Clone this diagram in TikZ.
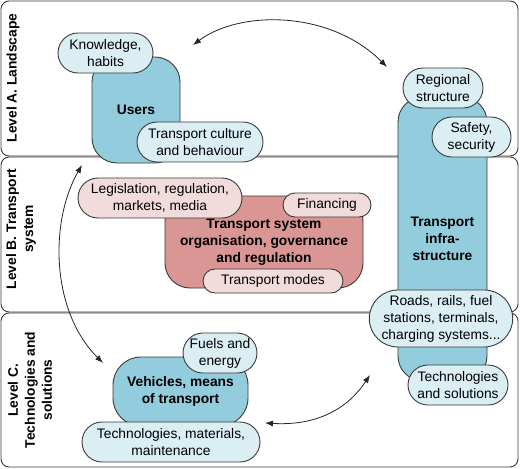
\documentclass[tikz,border=0pt]{standalone}
\usepackage{fontspec}
\setmainfont{Liberation Sans}
\usetikzlibrary{shapes.misc,arrows.meta}
\definecolor{teal1}{HTML}{93CDDD}
\definecolor{light1}{HTML}{DAEEF3}
\definecolor{red1}{HTML}{D99694}
\definecolor{pink1}{HTML}{F2DCDB}
\definecolor{edge}{HTML}{3A3A3A}
\newcommand{\myfs}{\fontsize{13.8}{17}\selectfont}
\tikzset{
  panel/.style={draw=edge, line width=0.9pt, fill=white, rounded corners=8pt},
  lvl/.style={rotate=90, font=\myfs\bfseries, align=center, inner sep=0pt},
  mainbox/.style={draw=edge, line width=0.9pt, rounded corners=25pt, font=\myfs\bfseries, align=center, inner sep=0pt},
  bubble/.style={rounded rectangle, draw=edge, line width=0.9pt, fill=light1, align=center, inner sep=0pt, font=\myfs},
  pbubble/.style={bubble, fill=pink1},
  link/.style={draw=black!85, line width=0.8pt, {Latex[length=8pt,width=6pt]}-{Latex[length=8pt,width=6pt]}}
}
\begin{document}
\begin{tikzpicture}[x=1pt, y=-1pt]
\useasboundingbox (0,0) rectangle (520,469);
% panels
\draw[panel] (1,1) rectangle (518,156);
\draw[panel] (1,157) rectangle (518,312);
\draw[panel] (1,313) rectangle (518,467);
\node[lvl] (la) at (13,78) {Level A. Landscape};
\node[lvl] (lb) at (21,229) {Level B. Transport\\system};
\node[lvl] (lc) at (30,390) {Level C.\\Technologies and\\solutions};
% main boxes
\node[mainbox, fill=teal1, minimum width=88pt, minimum height=106pt] (users) at (136,110) {Users};
\node[mainbox, fill=teal1, minimum width=89pt, minimum height=284pt] (infra) at (442.5,239) {Transport\\infra-\\structure};
\node[mainbox, fill=red1, minimum width=198pt, minimum height=92pt] (org) at (264,242) {Transport system\\organisation, governance\\and regulation};
\node[mainbox, fill=teal1, minimum width=135pt, minimum height=69pt, rounded corners=28pt] (veh) at (180.5,391.5) {Vehicles, means\\of transport};
% bubbles
\node[bubble, minimum width=95pt, minimum height=40pt] (know) at (105.5,53) {Knowledge,\\habits};
\node[bubble, minimum width=126pt, minimum height=40pt] (cult) at (200,142) {Transport culture\\and behaviour};
\node[bubble, minimum width=80pt, minimum height=40pt] (reg) at (443,88) {Regional\\structure};
\node[bubble, minimum width=79pt, minimum height=40pt] (safe) at (471.5,137) {Safety,\\security};
\node[pbubble, minimum width=164pt, minimum height=40pt] (legis) at (160,198) {Legislation, regulation,\\markets, media};
\node[pbubble, minimum width=88pt, minimum height=24pt] (fin) at (327,205) {Financing};
\node[pbubble, minimum width=140pt, minimum height=24pt] (modes) at (273,281) {Transport modes};
\node[bubble, minimum width=142pt, minimum height=57pt] (roads) at (441,318.5) {Roads, rails, fuel\\stations, terminals,\\charging systems...};
\node[bubble, minimum width=100pt, minimum height=40pt] (techsol) at (458,385) {Technologies\\and solutions};
\node[bubble, minimum width=70pt, minimum height=40pt] (fuel) at (220,353) {Fuels and\\energy};
\node[bubble, minimum width=178pt, minimum height=40pt] (techmat) at (171,442) {Technologies, materials,\\maintenance};
% connectors
\coordinate (a1) at (193,45);
\coordinate (a2) at (387,67);
\coordinate (b1) at (82,165);
\coordinate (b2) at (103,363);
\coordinate (c1) at (370,375);
\coordinate (c2) at (265,423);
\draw[link] (a1) .. controls (240,10) and (330,10) .. (a2);
\draw[link] (b1) .. controls (50,220) and (50,310) .. (b2);
\draw[link] (c1) .. controls (340,420) and (300,425) .. (c2);
\end{tikzpicture}
\end{document}
